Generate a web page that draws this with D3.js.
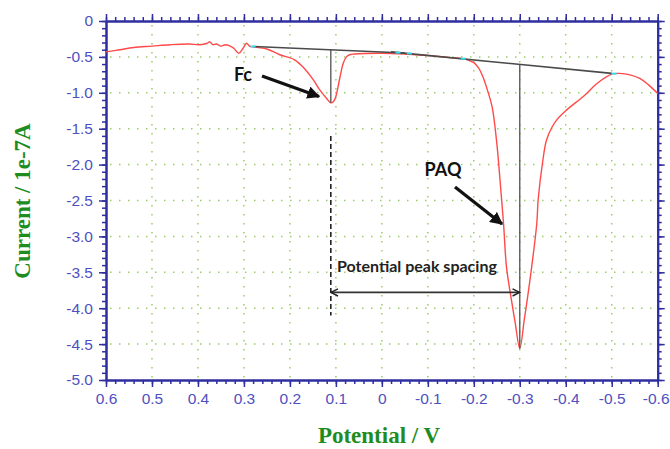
<!DOCTYPE html>
<html>
<head>
<meta charset="utf-8">
<script src="https://cdn.jsdelivr.net/npm/d3@7"></script>
<style>
body { margin: 0; background: #fff; }
</style>
</head>
<body>
<div id="chart"></div>
<script>
// données (potentiel en V, courant en 1e-7 A)
var potential = [0.60, 0.57, 0.54, 0.50, 0.46, 0.42, 0.396, 0.38, 0.374, 0.368, 0.36, 0.35, 0.34, 0.33, 0.322, 0.311, 0.303, 0.294, 0.288, 0.28,
	0.25, 0.222, 0.19, 0.17, 0.149, 0.135, 0.12, 0.111, 0.105, 0.10, 0.091, 0.084, 0.077, 0.07, 0.06, 0.0, -0.05, -0.10, -0.15, -0.18,
	-0.19, -0.20, -0.21, -0.22, -0.23, -0.24, -0.25, -0.26, -0.265, -0.271, -0.282, -0.29, -0.30, -0.31, -0.316, -0.326, -0.337, -0.34,
	-0.35, -0.358, -0.37, -0.38, -0.40, -0.44, -0.47, -0.50, -0.517, -0.54, -0.561, -0.58, -0.60];
var current = [-0.43, -0.40, -0.37, -0.35, -0.33, -0.32, -0.33, -0.31, -0.29, -0.33, -0.32, -0.35, -0.33, -0.35, -0.38, -0.45, -0.39, -0.31, -0.35, -0.36,
	-0.39, -0.47, -0.54, -0.65, -0.82, -0.96, -1.08, -1.14, -1.12, -1.05, -0.78, -0.59, -0.50, -0.47, -0.46, -0.45, -0.46, -0.48, -0.51, -0.53,
	-0.55, -0.58, -0.65, -0.78, -0.97, -1.20, -1.70, -2.45, -2.85, -3.42, -3.89, -4.20, -4.56, -4.15, -3.89, -3.42, -2.82, -2.49,
	-1.95, -1.66, -1.48, -1.38, -1.25, -1.04, -0.86, -0.74, -0.73, -0.75, -0.80, -0.89, -1.01];

// lignes de base (début, fin)
var baseFc = [[0.28, -0.355], [-0.05, -0.445]];
var basePAQ = [[-0.02, -0.43], [-0.50, -0.73]];
var peaks = [{name: "Fc", x: 0.111, y: -1.14, base: -0.395}, {name: "PAQ", x: -0.30, y: -4.56, base: -0.605}];
var cyanMarks = [[0.28, -0.355], [-0.035, -0.44], [-0.06, -0.452], [-0.177, -0.525], [-0.505, -0.733]];

var xTicks = [0.6, 0.5, 0.4, 0.3, 0.2, 0.1, 0, -0.1, -0.2, -0.3, -0.4, -0.5, -0.6];
var xLabels = ["0.6", "0.5", "0.4", "0.3", "0.2", "0.1", "0", "-0.1", "-0.2", "-0.3", "-0.4", "-0.5", "-0.6"];
var yTicks = [0, -0.5, -1, -1.5, -2, -2.5, -3, -3.5, -4, -4.5, -5];
var yLabels = ["0", "-0.5", "-1.0", "-1.5", "-2.0", "-2.5", "-3.0", "-3.5", "-4.0", "-4.5", "-5.0"];

var width = 670, height = 449;
var pLeft = 106, pRight = 657.7, pTop = 21, pBottom = 380;
var axisColor = "#2e2e9e", labelColor = "#5050c0", gridColor = "#9acd6a";

var svg = d3.select("#chart").append("svg")
	.attr("width", width)
	.attr("height", height);

var x = d3.scaleLinear().domain([0.6, -0.6]).range([pLeft, pRight]);
var y = d3.scaleLinear().domain([0, -5]).range([pTop, pBottom]);

// grille en pointillés
svg.append("g").selectAll("line")
	.data(xTicks.slice(1, -1))
	.enter().append("line")
	.attr("x1", d => x(d)).attr("x2", d => x(d))
	.attr("y1", pTop + 4).attr("y2", pBottom)
	.attr("stroke", gridColor).attr("stroke-width", 1.5)
	.attr("stroke-dasharray", "1.5,7.5");

svg.append("g").selectAll("line")
	.data(yTicks.slice(1, -1))
	.enter().append("line")
	.attr("x1", pLeft + 4).attr("x2", pRight)
	.attr("y1", d => y(d)).attr("y2", d => y(d))
	.attr("stroke", gridColor).attr("stroke-width", 1.5)
	.attr("stroke-dasharray", "1.5,7.5");

// axes (4 côtés)
var xMinor = d3.range(0, 61).map(i => 0.6 - i * 0.02);
var yMinor = d3.range(0, 51).map(i => -i * 0.1);

function styleAxis(g) {
	g.selectAll("path").attr("stroke", axisColor).attr("stroke-width", 2);
	g.selectAll("line").attr("stroke", axisColor).attr("stroke-width", 1.5);
	g.selectAll("text").attr("fill", labelColor)
		.style("font-family", "Liberation Sans, Arial, sans-serif").style("font-size", "15.5px");
}

var axes = [
	{gen: () => d3.axisBottom(x), tr: "translate(0," + pBottom + ")", minor: xMinor, major: xTicks, labels: xLabels},
	{gen: () => d3.axisTop(x), tr: "translate(0," + pTop + ")", minor: xMinor, major: xTicks, labels: null},
	{gen: () => d3.axisLeft(y), tr: "translate(" + pLeft + ",0)", minor: yMinor, major: yTicks, labels: yLabels},
	{gen: () => d3.axisRight(y), tr: "translate(" + pRight + ",0)", minor: yMinor, major: yTicks, labels: null}
];

axes.forEach(function (a, k) {
	var gm = svg.append("g").attr("transform", a.tr)
		.call(a.gen().tickValues(a.minor).tickSize(4).tickSizeOuter(0).tickFormat(""));
	styleAxis(gm);
	var g = svg.append("g").attr("transform", a.tr)
		.call(a.gen().tickValues(a.major).tickSize(7).tickSizeOuter(0).tickPadding(6)
			.tickFormat((d, i) => a.labels ? a.labels[i] : ""));
	styleAxis(g);
	// dernier libellé (-0.6) collé au bord droit
	if (k == 0) {
		g.selectAll(".tick text").filter(d => d == -0.6)
			.attr("text-anchor", "end").attr("x", width - pRight - 1);
	}
});

// courbe
var pts = potential.map((p, i) => [p, current[i]]);
var line = d3.line()
	.x(d => x(d[0])).y(d => y(d[1]))
	.curve(d3.curveCatmullRom.alpha(0.5));

svg.append("path")
	.attr("d", line(pts))
	.attr("fill", "none")
	.attr("stroke", "#ff4a4a")
	.attr("stroke-width", 1.4);

// lignes de base
var straight = d3.line().x(d => x(d[0])).y(d => y(d[1]));
[baseFc, basePAQ].forEach(function (b) {
	svg.append("path").attr("d", straight(b))
		.attr("stroke", "#4a4a4a").attr("stroke-width", 1.6).attr("fill", "none");
});

svg.selectAll(".cyan").data(cyanMarks).enter().append("line")
	.attr("x1", d => x(d[0]) - 2.5).attr("x2", d => x(d[0]) + 2.5)
	.attr("y1", d => y(d[1])).attr("y2", d => y(d[1]))
	.attr("stroke", "#30e0f0").attr("stroke-width", 2);

// hauteurs des pics
svg.selectAll(".peak").data(peaks).enter().append("line")
	.attr("x1", d => x(d.x)).attr("x2", d => x(d.x))
	.attr("y1", d => y(d.base)).attr("y2", d => y(d.y))
	.attr("stroke", "#505050").attr("stroke-width", 1.3);

// ligne pointillée sous Fc
svg.append("line")
	.attr("x1", x(0.111)).attr("x2", x(0.111))
	.attr("y1", y(-1.6)).attr("y2", y(-4.1))
	.attr("stroke", "#222").attr("stroke-width", 1.6)
	.attr("stroke-dasharray", "5,3");

// flèches
var defs = svg.append("defs");
defs.append("marker").attr("id", "head")
	.attr("viewBox", "0 0 10 10").attr("refX", 9).attr("refY", 5)
	.attr("markerWidth", 4).attr("markerHeight", 4)
	.attr("orient", "auto")
	.append("path").attr("d", "M0,0 L10,5 L0,10 z").attr("fill", "#111");

defs.append("marker").attr("id", "open")
	.attr("viewBox", "0 0 10 10").attr("refX", 9).attr("refY", 5)
	.attr("markerWidth", 5).attr("markerHeight", 5)
	.attr("orient", "auto-start-reverse")
	.append("path").attr("d", "M1,1 L9,5 L1,9").attr("fill", "none")
	.attr("stroke", "#222").attr("stroke-width", 1.6);

svg.append("line")
	.attr("x1", 262).attr("y1", 76).attr("x2", 319).attr("y2", 96.5)
	.attr("stroke", "#111").attr("stroke-width", 3.2)
	.attr("marker-end", "url(#head)");

svg.append("line")
	.attr("x1", 455).attr("y1", 187).attr("x2", 502).attr("y2", 224)
	.attr("stroke", "#111").attr("stroke-width", 3.2)
	.attr("marker-end", "url(#head)");

svg.append("line")
	.attr("x1", x(0.111)).attr("x2", x(-0.30))
	.attr("y1", y(-3.78)).attr("y2", y(-3.78))
	.attr("stroke", "#333").attr("stroke-width", 1.8)
	.attr("marker-start", "url(#open)").attr("marker-end", "url(#open)");

// textes
svg.append("text").text("Fc")
	.attr("x", 243).attr("y", 80.5).attr("text-anchor", "middle")
	.style("font-family", "Lato, 'Open Sans', sans-serif").style("font-weight", "bold")
	.style("font-size", "18px").attr("fill", "#111");

svg.append("text").text("PAQ")
	.attr("x", 443).attr("y", 175.5).attr("text-anchor", "middle")
	.style("font-family", "Lato, 'Open Sans', sans-serif").style("font-weight", "bold")
	.style("font-size", "18px").attr("fill", "#111");

svg.append("text").text("Potential peak spacing")
	.attr("x", 337).attr("y", 272)
	.style("font-family", "Lato, 'Open Sans', sans-serif").style("font-weight", "bold")
	.style("font-size", "16px").attr("fill", "#222");

// titres des axes
svg.append("text").text("Potential / V")
	.attr("x", 379).attr("y", 443).attr("text-anchor", "middle")
	.style("font-family", "Liberation Serif, 'Times New Roman', serif").style("font-weight", "bold")
	.style("font-size", "23px").attr("fill", "#1e8c1e");

svg.append("text").text("Current / 1e-7A")
	.attr("transform", "translate(30,201) rotate(-90)").attr("text-anchor", "middle")
	.style("font-family", "Liberation Serif, 'Times New Roman', serif").style("font-weight", "bold")
	.style("font-size", "23px").attr("fill", "#1e8c1e");
</script>
</body>
</html>
